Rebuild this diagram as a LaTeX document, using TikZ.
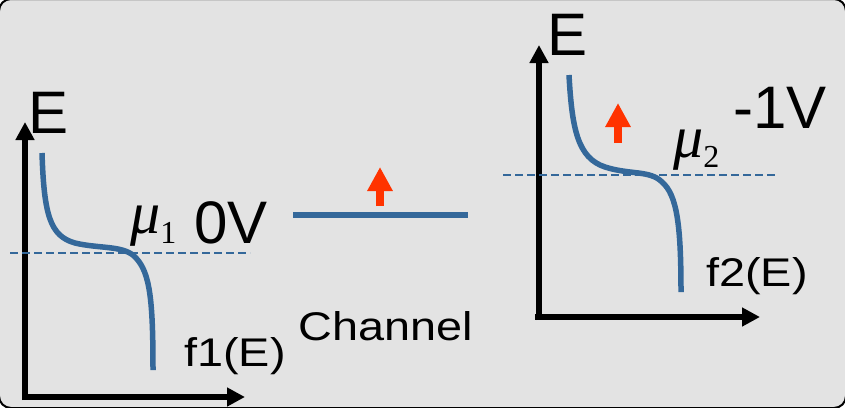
\documentclass[tikz,border=0pt]{standalone}
\usepackage{fontspec}
\setmainfont{Liberation Sans}
\newfontfamily\timesfont{Liberation Serif}
\usepackage{tikz}
\usetikzlibrary{arrows.meta}
\definecolor{bandblue}{RGB}{52,104,154}
\definecolor{panelgray}{RGB}{227,227,227}
\definecolor{upred}{RGB}{255,51,0}

\tikzset{
  axis/.style={line width=5.5pt, -{Triangle[length=18pt,width=18pt]}},
  fermi/.style={bandblue, line width=5.5pt},
  mulevel/.style={bandblue, line width=1.5pt, dash pattern=on 8pt off 4pt},
  shiftarrow/.style={upred, line width=8.5pt, -{Triangle[length=24pt,width=24pt]}},
  biglabel/.style={anchor=base west, inner sep=0pt, font=\fontsize{60}{66}\selectfont},
  smalllabel/.style={anchor=base west, inner sep=0pt, font=\fontsize{40}{44}\selectfont, xscale=1.17},
  mulabel/.style={anchor=base west, inner sep=0pt, font=\timesfont\fontsize{60}{66}\selectfont}
}

\newcommand{\chempot}[1]{{\itshape μ}\raisebox{-10pt}{\fontsize{32}{36}\selectfont #1}}

\begin{document}
\begin{tikzpicture}[x=1pt,y=-1pt]
    \useasboundingbox (0,0) rectangle (845,407);
    % Panel background
    \fill[white] (0,0) rectangle (845,407);
    \draw[fill=panelgray, line width=2pt, rounded corners=12pt] (-1,-1) rectangle (846,408);

    % Left contact: axes
    \draw[axis] (25,400) -- (25,122);
    \draw[axis] (22,397) -- (245,397);
    \node[biglabel] (lefte) at (28,133) {E};

    % Left contact: level mu1 and Fermi function
    \draw[mulevel] (10,253) -- (250,253);
    \draw[fermi] (42,153) .. controls (44,215) and (50,236) .. (75,243)
        .. controls (100,249) and (125,245) .. (136,258)
        .. controls (150,273) and (153,300) .. (153,370);
    \node[mulabel] (muone) at (130,233) {\chempot{1}};
    \node[biglabel] (zerov) at (194,243) {0V};
    \node[smalllabel] (fone) at (184,366) {f1(E)};

    % Channel level with its arrow
    \draw[fermi, line width=6pt] (293,215) -- (468,215);
    \draw[shiftarrow] (380,206) -- (380,167);
    \node[smalllabel] (chan) at (298,340) {Channel};

    % Right contact: axes
    \draw[axis] (539,320) -- (539,45);
    \draw[axis] (535,317) -- (760,317);
    \node[biglabel] (righte) at (547,55) {E};

    % Right contact: level mu2 and Fermi function
    \draw[mulevel] (503,175) -- (778,175);
    \draw[fermi] (569,75) .. controls (572,130) and (578,158) .. (605,167)
        .. controls (630,175) and (650,170) .. (662,182)
        .. controls (677,195) and (681,225) .. (681,292);
    \draw[shiftarrow] (618,143) -- (618,103);
    \node[mulabel] (mutwo) at (673,157) {\chempot{2}};
    \node[biglabel] (minusv) at (733,128) {-1V};
    \node[smalllabel] (ftwo) at (706,286) {f2(E)};
\end{tikzpicture}
\end{document}
